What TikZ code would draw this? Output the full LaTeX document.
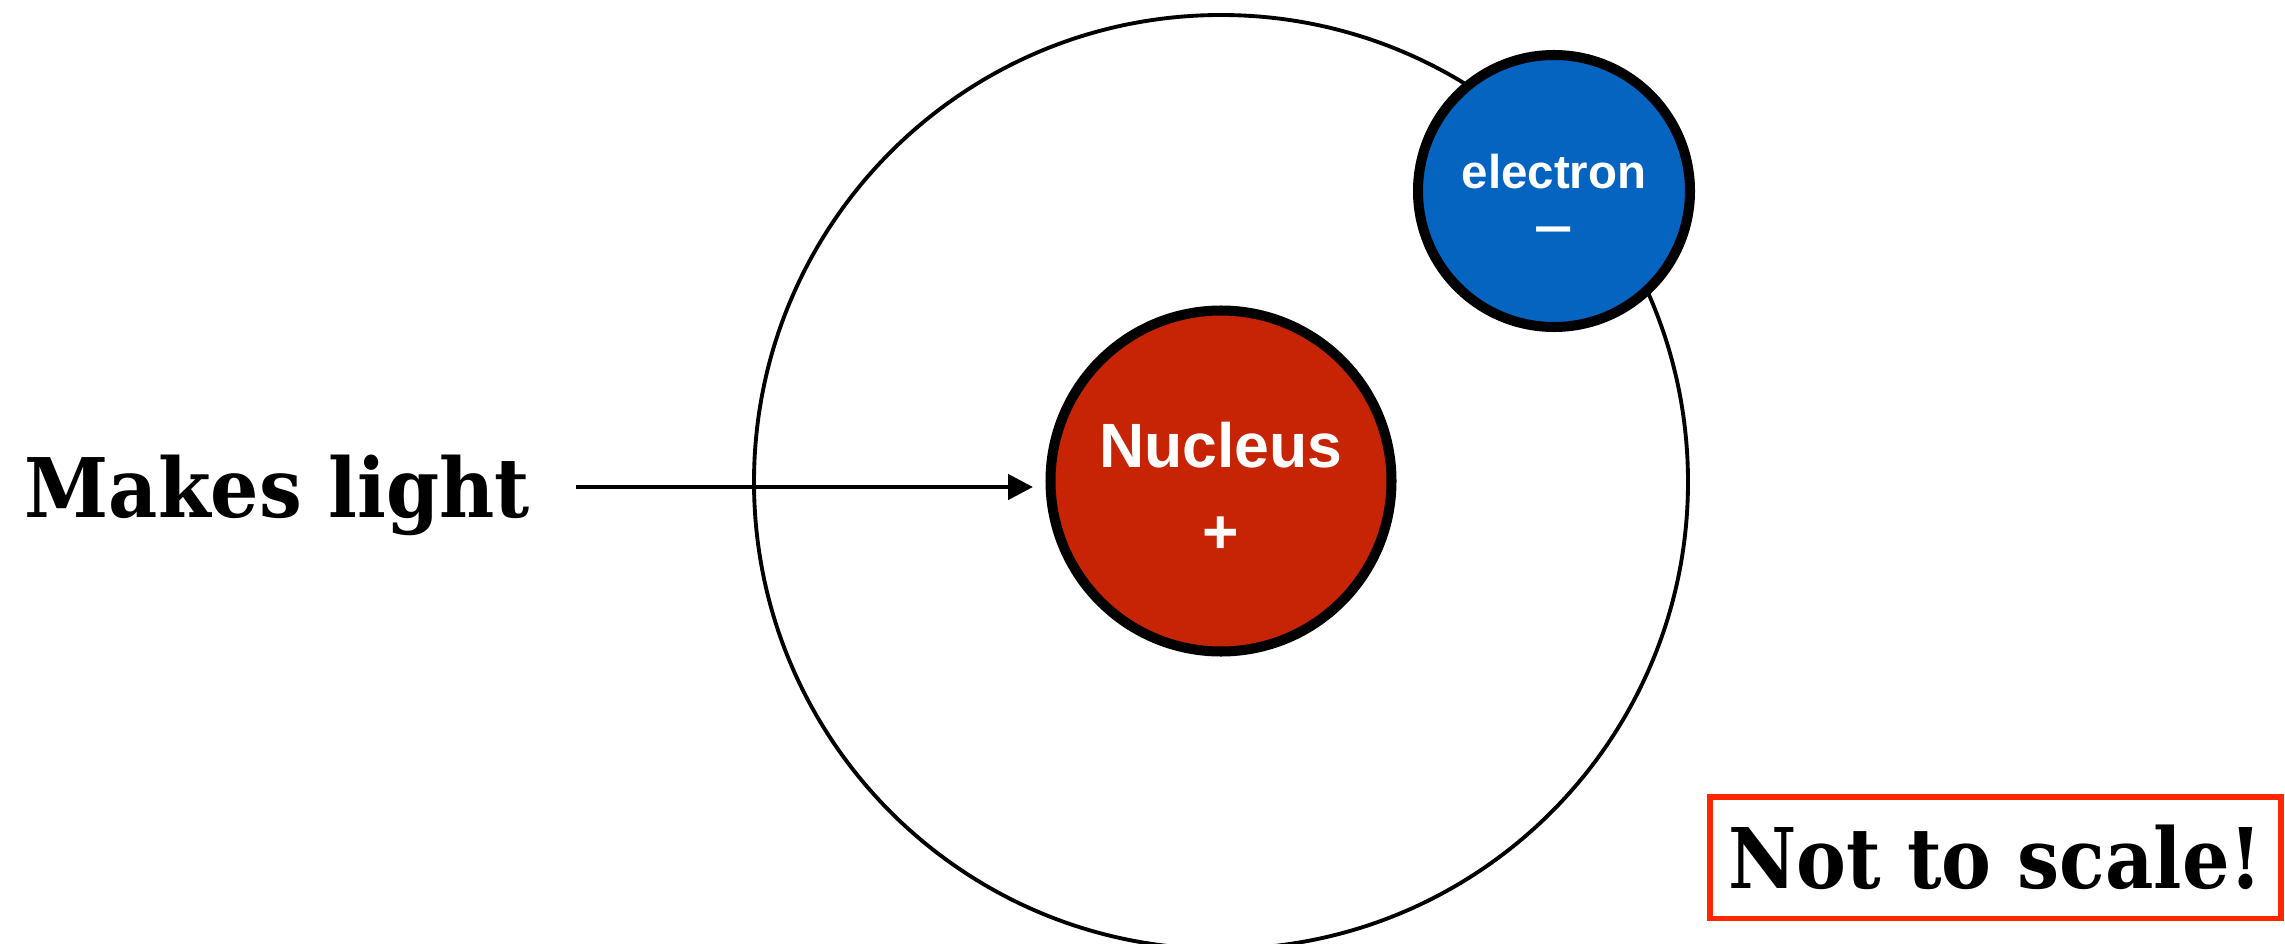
\documentclass[tikz,border=0pt]{standalone}
\usepackage{fontspec}
\usepackage{graphicx}
\newfontfamily\labelfont{Liberation Sans}
\newfontfamily\headfont{DejaVu Serif}
\usetikzlibrary{arrows.meta}
\definecolor{nucleusred}{RGB}{198,36,5}
\definecolor{electronblue}{RGB}{5,100,192}
\definecolor{notered}{RGB}{255,38,0}

\begin{document}
\begin{tikzpicture}[
  particle/.style={circle,draw=black,line width=2.85pt,text=white,align=center,inner sep=0pt},
  ]
\useasboundingbox (0,0) rectangle (22.85,9.43);
% orbit
\draw[line width=1.1pt] (12.21,4.61) circle (4.67);
\node[particle,fill=nucleusred,minimum size=3.41cm,font=\labelfont\bfseries\fontsize{17.8}{24.4}\selectfont] (nucleus) at (12.21,4.62) {\rule{0pt}{16.8pt}Nucleus\\+};
\node[particle,fill=electronblue,minimum size=2.72cm,font=\labelfont\bfseries\fontsize{13.5}{15.6}\selectfont] (electron) at (15.54,7.52) {\rule{0pt}{14pt}electron\\\scalebox{1.45}[1.1]{–}};
\node[anchor=base west,inner sep=0pt,font=\headfont\bfseries\fontsize{23.4}{28}\selectfont] (light) at (0.24,4.26) {\resizebox{5.05cm}{\height}{Makes light}};
\coordinate (src) at (5.76,4.56);
\draw[-{Triangle[length=7.1pt,width=7.1pt]},line width=1.34pt,shorten >=0.125cm] (src) -- (nucleus.west |- src);
\node[draw=notered,line width=1.7pt,minimum width=5.71cm,minimum height=1.215cm,inner sep=0pt,font=\headfont\bfseries\fontsize{23.8}{28}\selectfont] (note) at (19.955,0.8525) {\resizebox{5.34cm}{\height}{Not to scale!}};
\end{tikzpicture}
\end{document}
